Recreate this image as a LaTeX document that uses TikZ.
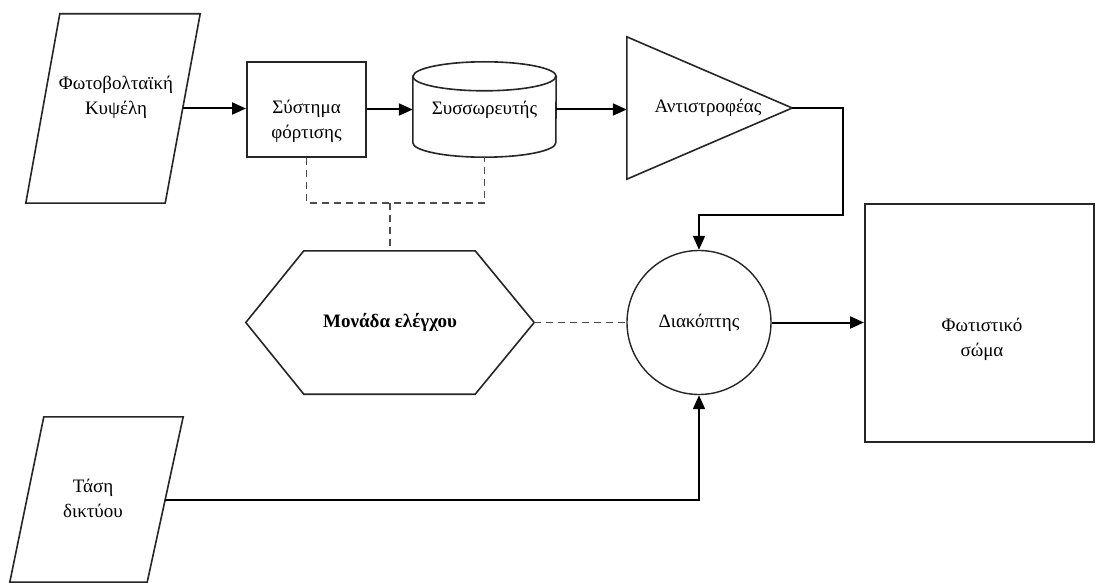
\documentclass[tikz,border=0pt]{standalone}
\usepackage{fontspec}
\setmainfont{Liberation Serif}
\usetikzlibrary{arrows.meta,calc}
\begin{document}
\begin{tikzpicture}[x=1pt,y=-1pt,
  ghost/.style={draw=none, inner sep=0pt, font=\fontsize{19}{25}\selectfont, align=center},
  outline/.style={draw=black!85, line width=1.6pt},
  boxnode/.style={ghost, outline, line width=2pt},
  lbl/.style={inner sep=0pt, font=\fontsize{19}{25}\selectfont, align=center},
  conn/.style={draw=black, line width=2pt, -{Triangle[length=14pt,width=12pt]}},
  ctl/.style={draw=black!70, line width=1.4pt, dash pattern=on 7pt off 5pt}]
\useasboundingbox (0,0) rectangle (1096,583);
\fill[white] (0,0) rectangle (1096,583);

% shape nodes
\node[ghost, minimum width=174pt, minimum height=189pt] (pv) at (113,108.5) {};
\draw[outline] ([xshift=34pt]pv.north west) -- (pv.north east) -- ([xshift=-35pt]pv.south east) -- (pv.south west) -- cycle;
\node[lbl] (pvT) at (116,97.5) {Φωτοβολταϊκή\\Κυψέλη};

\node[boxnode, minimum width=119pt, minimum height=95pt] (chg) at (306.5,109.5) {};
\node[lbl] (chgT) at (306.5,121.5) {Σύστημα\\φόρτισης};

\node[ghost, minimum width=143pt, minimum height=95pt] (bat) at (484.5,109.5) {Συσσωρευτής};
\draw[outline] ([yshift=-14.5pt]bat.north west) -- ([yshift=14.5pt]bat.south west)
  arc[start angle=180, end angle=360, x radius=71.5pt, y radius=14.5pt]
  -- ([yshift=-14.5pt]bat.north east)
  arc[start angle=0, end angle=180, x radius=71.5pt, y radius=14.5pt] -- cycle;
\draw[outline] ([yshift=-14.5pt]bat.north west)
  arc[start angle=180, end angle=360, x radius=71.5pt, y radius=14.5pt];

\node[ghost, minimum width=165pt, minimum height=142pt] (inv) at (709.5,108) {};
\draw[outline] (inv.north west) -- (inv.east) -- (inv.south west) -- cycle;
\node[lbl] (invT) at (708,108) {Αντιστροφέας};

\node[ghost, minimum width=288pt, minimum height=143pt] (ctrl) at (390,322.5) {\textbf{Μονάδα ελέγχου}};
\draw[outline] (ctrl.west) -- ([xshift=58pt]ctrl.north west) -- ([xshift=-59pt]ctrl.north east)
  -- (ctrl.east) -- ([xshift=-59pt]ctrl.south east) -- ([xshift=58pt]ctrl.south west) -- cycle;

\node[circle, outline, line width=1.4pt, minimum size=144pt, inner sep=0pt,
  font=\fontsize{19}{25}\selectfont] (sw) at (699,322.5) {Διακόπτης};

\node[boxnode, minimum width=229pt, minimum height=238pt] (lamp) at (979.5,323) {};
\node[lbl] (lampT) at (982,339) {Φωτιστικό\\σώμα};

\node[ghost, minimum width=173pt, minimum height=165pt] (grid) at (96.5,499.5) {};
\draw[outline] ([xshift=34pt]grid.north west) -- (grid.north east) -- ([xshift=-36pt]grid.south east) -- (grid.south west) -- cycle;
\node[lbl] (gridT) at (93,498.5) {Τάση\\δικτύου};

% connection points
\coordinate (pvE) at ($(pv.north east)!0.5!([xshift=-35pt]pv.south east)$);
\coordinate (gridE) at ($(grid.north east)!0.5!([xshift=-36pt]grid.south east)$);
\coordinate (bend) at (843,215);
\coordinate (dj) at (390,203);

% connectors
\draw[conn] (pvE) -- (pvE -| chg.west);
\draw[conn] (chg.east) -- (bat.west);
\draw[conn] (bat.east) -- (bat.east -| inv.west);
\draw[conn] (inv.east) -- (inv.east -| bend) -- (bend) -| (sw.north);
\draw[conn] (sw.east) -- (sw.east -| lamp.west);
\draw[conn] (gridE) -| (sw.south);

% control (dashed) links
\draw[ctl] (chg.south) |- (dj) -| (bat.south);
\draw[ctl] (dj) -- (ctrl.north);
\draw[ctl] (ctrl.east) -- (sw.west);
\end{tikzpicture}
\end{document}
